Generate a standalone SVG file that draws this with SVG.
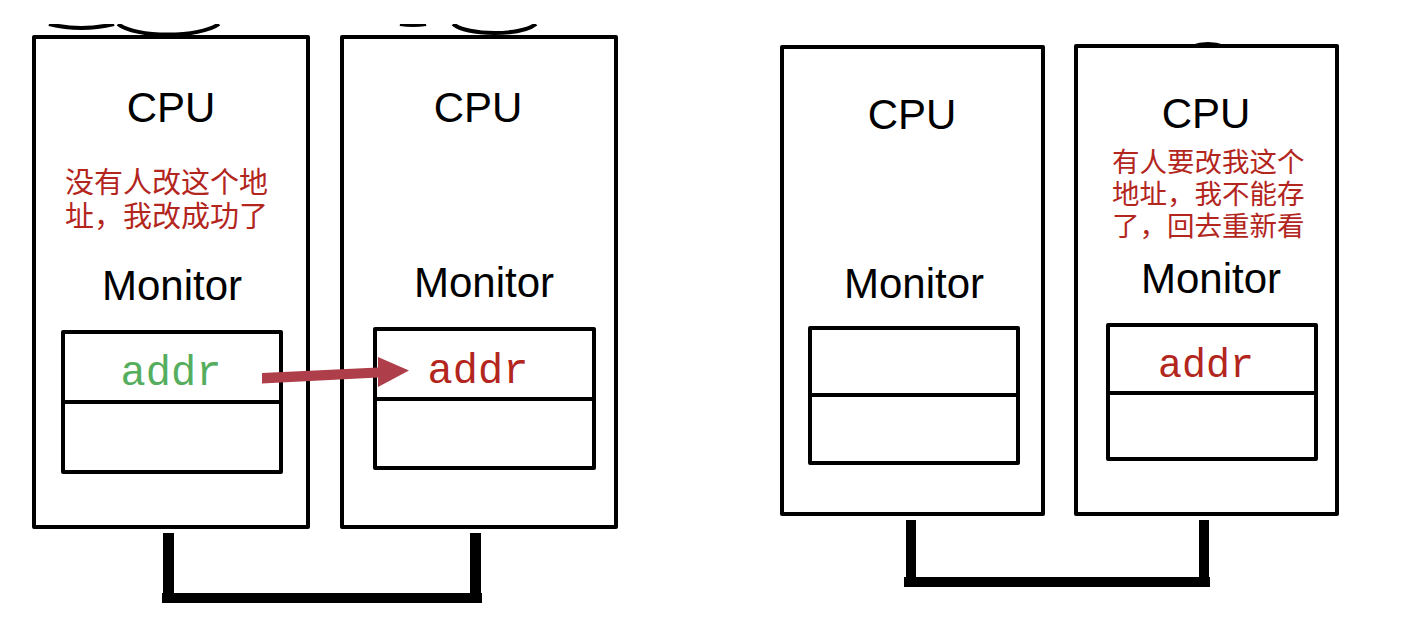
<svg xmlns="http://www.w3.org/2000/svg" width="1412" height="624" viewBox="0 0 1412 624">
  <style>
    .frame { fill: #fff; stroke: #000; stroke-width: 4; stroke-linejoin: round; }
    .cell { fill: none; stroke: #000; stroke-width: 4; stroke-linejoin: round; }
    .title { font-family: "Liberation Sans", Arial, sans-serif; font-size: 42px; fill: #000; text-anchor: middle; }
    .note { font-family: "Liberation Sans", "Noto Sans CJK SC", sans-serif; fill: #B3261E; }
    .addr { font-family: "Liberation Mono", "Courier New", monospace; text-anchor: middle; }
    .bus { fill: #000; }
    .arc { fill: none; stroke: #000; stroke-width: 4; }
  </style>
  <defs>
    <clipPath id="topcut">
      <rect x="0" y="24" width="1412" height="600"/>
    </clipPath>
  </defs>
  <rect width="1412" height="624" fill="#fff"/>

  <!-- partial shapes cut off above the processors -->
  <g id="top-arcs" clip-path="url(#topcut)">
    <path class="arc" d="M49 24 Q81 32 114 24"/>
    <path class="arc" d="M118 24 C135 38 200 38 219 24"/>
    <path class="arc" d="M400 24 Q413 26 426 24"/>
    <path class="arc" d="M453 24 C468 36 521 36 536 24"/>
    <path fill="#000" d="M1191 45 Q1208 39 1225 45 Z"/>
  </g>

  <!-- left pair: CPU that succeeded -->
  <g id="cpu-a1">
    <rect class="frame" x="34" y="37" width="274" height="490"/>
    <text class="title" x="171" y="122">CPU</text>
    <text class="note" font-size="29">
      <tspan x="65" y="193">没有人改这个地</tspan>
      <tspan x="65" y="227">址，我改成功了</tspan>
    </text>
    <text class="title" x="172" y="300">Monitor</text>
    <rect class="cell" x="63" y="332" width="218" height="140"/>
    <line class="cell" x1="63" y1="402" x2="281" y2="402"/>
    <text class="addr" x="171" y="385" font-size="42" fill="#55AE5E">addr</text>
  </g>

  <!-- left pair: second CPU -->
  <g id="cpu-a2">
    <rect class="frame" x="342" y="37" width="274" height="490"/>
    <text class="title" x="478" y="122">CPU</text>
    <text class="title" x="484" y="297">Monitor</text>
    <rect class="cell" x="375" y="329" width="219" height="139"/>
    <line class="cell" x1="375" y1="399" x2="594" y2="399"/>
    <text class="addr" x="478" y="383" font-size="42" fill="#B3261E">addr</text>
  </g>

  <!-- right pair: idle CPU -->
  <g id="cpu-b1">
    <rect class="frame" x="782" y="47" width="261" height="467"/>
    <text class="title" x="912" y="129">CPU</text>
    <text class="title" x="914" y="298">Monitor</text>
    <rect class="cell" x="810" y="328" width="208" height="135"/>
    <line class="cell" x1="810" y1="395" x2="1018" y2="395"/>
  </g>

  <!-- right pair: CPU that must retry -->
  <g id="cpu-b2">
    <rect class="frame" x="1076" y="46" width="261" height="468"/>
    <text class="title" x="1206" y="128">CPU</text>
    <text class="note" font-size="27.5">
      <tspan x="1112" y="172">有人要改我这个</tspan>
      <tspan x="1112" y="204">地址，我不能存</tspan>
      <tspan x="1112" y="236">了，回去重新看</tspan>
    </text>
    <text class="title" x="1211" y="293">Monitor</text>
    <rect class="cell" x="1108" y="325" width="208" height="134"/>
    <line class="cell" x1="1108" y1="393" x2="1316" y2="393"/>
    <text class="addr" x="1206" y="377" font-size="40" fill="#B3261E">addr</text>
  </g>

  <!-- connectors: buses and the invalidation arrow -->
  <g id="connectors">
    <rect class="bus" x="163" y="533" width="11" height="70"/>
    <rect class="bus" x="470" y="533" width="11" height="70"/>
    <rect class="bus" x="162" y="593" width="320" height="10"/>

    <rect class="bus" x="906" y="520" width="10" height="67"/>
    <rect class="bus" x="1199" y="520" width="10" height="67"/>
    <rect class="bus" x="904" y="577" width="306" height="10"/>

    <path fill="#AE3E4A" d="M262 373 L378 367.5 L378 357 L409 370.5 L378 387 L378 377.5 L262 383.5 Z"/>
  </g>
</svg>
